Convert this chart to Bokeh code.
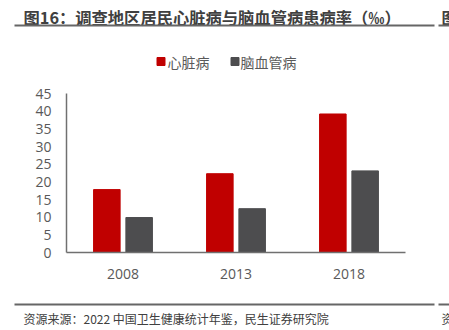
from bokeh.plotting import figure
from bokeh.models import ColumnDataSource, Range1d, FactorRange, FixedTicker
from bokeh.layouts import column
from bokeh.transform import dodge
from bokeh.core.properties import value
from bokeh.embed import file_html
from bokeh.resources import INLINE

years = ["2008", "2013", "2018"]
heart = [17.8, 22.3, 39.2]
cerebro = [9.9, 12.4, 23.1]
series_names = ["心脏病", "脑血管病"]
title_text = "图16：调查地区居民心脏病与脑血管病患病率（‰）"
source_text = "资源来源：2022 中国卫生健康统计年鉴，民生证券研究院"

RED = "#C00000"
GRAY = "#4D4D4F"
TXT = "#595959"
FONT = "Noto Sans CJK SC"
NUMFONT = "Open Sans"
W = 449

def blank(h, y0, y1):
    f = figure(width=W, height=h, x_range=Range1d(0, W), y_range=Range1d(y1, y0),
               output_backend="svg", toolbar_location=None, frame_align=False,
               min_border=0, min_border_left=0, min_border_right=0,
               min_border_top=0, min_border_bottom=0)
    f.axis.visible = False
    f.grid.visible = False
    f.outline_line_color = None
    return f

# header (pixel rows 0..80)
h = blank(80, 0, 80)
h.text(x=[23], y=[16], text=[title_text], text_font=value(FONT), text_font_size="16.3px",
       text_font_style="bold", text_color="#404040", text_baseline="middle")
h.text(x=[441], y=[16], text=["图"], text_font=value(FONT), text_font_size="16px",
       text_font_style="bold", text_color="#404040", text_baseline="middle")
h.segment(x0=[14, 438], y0=[25, 25], x1=[434, 449], y1=[25, 25], line_color="#666666", line_width=2)
h.scatter(x=[160.5, 234.5], y=[61, 61], marker="square", size=8, color=[RED, GRAY])
h.text(x=[167, 240], y=[61, 61], text=series_names, text_font=value(FONT), text_font_size="14px",
       text_color=TXT, text_baseline="middle")

# main chart (pixel rows 80..295)
src = ColumnDataSource(dict(years=years, heart=heart, cerebro=cerebro))
p = figure(width=W, height=215, x_range=FactorRange(*years, range_padding=0),
           y_range=Range1d(0, 45), output_backend="svg", toolbar_location=None,
           frame_align=False,
           min_border_left=66, min_border_right=44, min_border_top=13, min_border_bottom=43)
p.vbar(x=dodge("years", -0.143, range=p.x_range), top="heart", width=0.235, source=src,
       color=RED)
p.vbar(x=dodge("years", 0.143, range=p.x_range), top="cerebro", width=0.235, source=src,
       color=GRAY)
p.grid.visible = False
p.outline_line_color = None
p.yaxis.ticker = FixedTicker(ticks=list(range(0, 46, 5)))
for ax in (p.xaxis[0], p.yaxis[0]):
    ax.major_tick_line_color = None
    ax.minor_tick_line_color = None
    ax.axis_line_color = "#707070"
    ax.axis_line_width = 1.5
    ax.major_label_text_font = NUMFONT
    ax.major_label_text_font_size = "14px"
    ax.major_label_text_color = TXT
p.yaxis.major_label_standoff = 9
p.xaxis.major_label_standoff = 10

# footer (pixel rows 295..330)
f = blank(35, 0, 35)
f.segment(x0=[14, 438], y0=[9, 9], x1=[434, 449], y1=[9, 9], line_color="#666666", line_width=2)
f.text(x=[23], y=[23], text=[source_text], text_font=value(FONT), text_font_size="12px",
       text_color="#404040", text_baseline="middle")
f.text(x=[441], y=[23], text=["资"], text_font=value(FONT), text_font_size="12px",
       text_color="#404040", text_baseline="middle")

layout = column(h, p, f, spacing=0)
open("out.html", "w").write(file_html(layout, INLINE))
